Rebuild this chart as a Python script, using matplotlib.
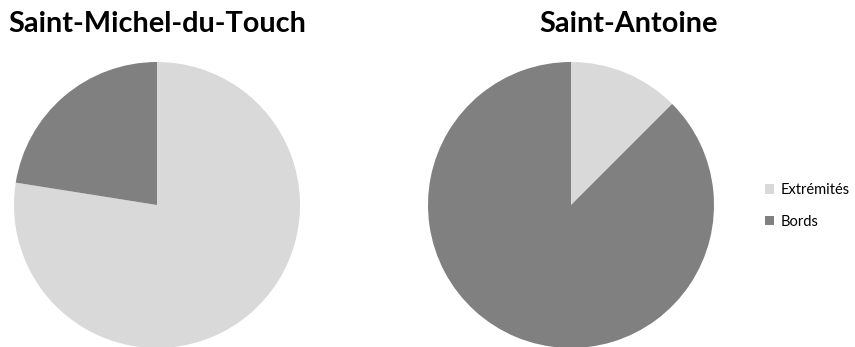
import matplotlib
matplotlib.use("Agg")
from matplotlib import pyplot as plt
from matplotlib.patches import Patch

plt.rcParams['font.family'] = ['Lato', 'DejaVu Sans']

lstCategories = ["Extrémités", "Bords"]
lstColors = ["#d9d9d9", "#808080"]
lstTitles = ["Saint-Michel-du-Touch", "Saint-Antoine"]
arrTouch = [77.5, 22.5]
arrAntoine = [12.5, 87.5]

nW, nH = 855, 347
fig = plt.figure(figsize=(nW / 100, nH / 100), dpi=100)

nR = 143
# (centre du camembert, valeurs, titre, centre du titre)
for cx, vals, title, tx in [(157, arrTouch, lstTitles[0], 157),
                            (571, arrAntoine, lstTitles[1], 629)]:
    ax = fig.add_axes([(cx - nR) / nW, (nH - 205 - nR) / nH, 2 * nR / nW, 2 * nR / nH])
    ax.pie(vals, colors=lstColors, startangle=90, counterclock=False, radius=1,
           wedgeprops=dict(linewidth=0))
    ax.set_xlim(-1, 1)
    ax.set_ylim(-1, 1)
    ax.set_aspect('equal')
    ax.axis('off')
    fig.text(tx / nW, 1 - 24 / nH, title, ha='center', va='center',
             fontsize=20.8, fontweight='bold', color='black')

handles = [Patch(facecolor=c, edgecolor='none') for c in lstColors]
fig.legend(handles, lstCategories, loc='center left', bbox_to_anchor=(752 / nW, 1 - 206 / nH),
           frameon=False, fontsize=10.5, handlelength=0.6, handleheight=0.6,
           handletextpad=0.45, labelspacing=1.2)

fig.savefig("out.png", dpi=100)
